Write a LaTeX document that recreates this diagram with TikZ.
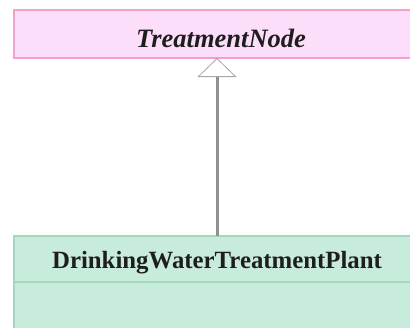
\documentclass[tikz,border=0pt]{standalone}
\usepackage{fontspec}
\setmainfont{Liberation Serif}
\usetikzlibrary{arrows.meta}
\definecolor{pinkfill}{RGB}{253,222,250}
\definecolor{pinkline}{RGB}{243,160,205}
\definecolor{greenfill}{RGB}{200,236,220}
\definecolor{greenline}{RGB}{165,215,190}
\definecolor{arrowgray}{RGB}{145,145,145}
\definecolor{textdark}{RGB}{30,30,30}
\tikzset{
  gen/.style={draw=arrowgray, line width=3pt, -{Triangle[open, width=39pt, length=19pt, line width=0.8pt, color=arrowgray!80, fill=white]}},
}
\begin{document}
\begin{tikzpicture}[x=1pt,y=-1pt]
\useasboundingbox (0,0) rectangle (410,327);
\fill[pinkfill] (14,10) rectangle (420,58);
\draw[pinkline, line width=2pt] (420,10) -- (14,10) -- (14,58) -- (420,58);
\node[text=textdark, font=\fontsize{26.5}{30}\selectfont\bfseries\itshape] (top) at (221,38) {TreatmentNode};
\coordinate (topb) at (217,58);
\fill[greenfill] (14,236) rectangle (420,330);
\draw[greenline, line width=1.5pt] (420,236) -- (14,236) -- (14,330);
\draw[greenline, line width=1.2pt] (14,282) -- (420,282);
\node[text=textdark, font=\fontsize{24.8}{28}\selectfont\bfseries] (bot) at (217,263) {DrinkingWaterTreatmentPlant};
\coordinate (bott) at (217,236);
\draw[gen] (bott) -- (topb);
\end{tikzpicture}
\end{document}
